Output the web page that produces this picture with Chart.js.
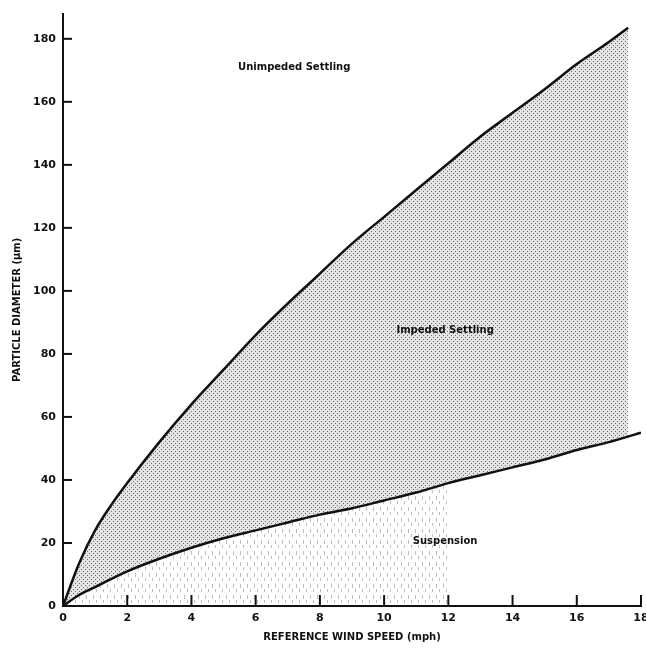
<!DOCTYPE html>
<html>
<head>
<meta charset="utf-8">
<script src="https://cdn.jsdelivr.net/npm/chart.js@4.4.0/dist/chart.umd.min.js"></script>
<style>
    body { margin: 0; background: #fff; }
    #wrap { width: 646px; height: 650px; }
</style>
</head>
<body>
<div id="wrap"><canvas id="chart"></canvas></div>
<script>
// curve readings (wind speed in mph, particle diameter in um)
const upperSpeed = [0, 0.5, 1, 1.5, 2, 3, 4, 5, 6, 7, 8, 9, 10, 11, 12, 13, 14, 15, 16, 17, 17.6];
const upperDiameter = [0, 13.5, 24, 32, 39, 52, 64, 75, 86, 96, 105.5, 115, 123.5, 132, 140.5, 149, 156.5, 164, 172, 179, 183.5];
const lowerSpeed = [0, 0.5, 1, 2, 3, 4, 5, 6, 7, 8, 9, 10, 11, 12, 13, 14, 15, 16, 17, 18];
const lowerDiameter = [0, 3.5, 6, 11, 15, 18.5, 21.5, 24, 26.5, 29, 31, 33.5, 36, 39, 41.5, 44, 46.5, 49.5, 52, 55];
const xTicks = [0, 2, 4, 6, 8, 10, 12, 14, 16, 18];
const yTicks = [0, 20, 40, 60, 80, 100, 120, 140, 160, 180];
const regionLabels = ['Unimpeded Settling', 'Impeded Settling', 'Suspension'];
const regionSpeed = [7.2, 11.9, 11.9];
const regionDiameter = [171, 87.5, 20.5];
const suspensionEnd = 12; // the hatched part below the lower curve stops here

function toPoints(xs, ys) {
    return xs.map((x, i) => ({ x: x, y: ys[i] }));
}

function stipple() {
    const c = document.createElement('canvas');
    c.width = 4; c.height = 4;
    const g = c.getContext('2d');
    g.fillStyle = '#e4e4e4';
    g.fillRect(0, 0, 4, 4);
    g.fillStyle = '#6e6e6e';
    g.fillRect(1, 1, 1, 1);
    g.fillRect(3, 3, 1, 1);
    return g.createPattern(c, 'repeat');
}

function dashes() {
    const c = document.createElement('canvas');
    c.width = 7; c.height = 11;
    const g = c.getContext('2d');
    g.fillStyle = 'rgba(110,110,110,0.45)';
    g.fillRect(2, 1, 1, 4);
    g.fillRect(5, 6, 1, 3);
    return g.createPattern(c, 'repeat');
}

const font = "'DejaVu Sans', sans-serif";

const inwardTicks = {
    id: 'inwardTicks',
    afterDraw(chart) {
        const ctx = chart.ctx;
        const xs = chart.scales.x, ys = chart.scales.y;
        const area = chart.chartArea;
        ctx.save();
        ctx.strokeStyle = '#111';
        ctx.lineWidth = 2;
        yTicks.forEach(v => {
            if (v === 0) return;
            const py = ys.getPixelForValue(v);
            ctx.beginPath();
            ctx.moveTo(area.left, py);
            ctx.lineTo(area.left + 9, py);
            ctx.stroke();
        });
        xTicks.forEach(v => {
            if (v === 0) return;
            const px = xs.getPixelForValue(v);
            ctx.beginPath();
            ctx.moveTo(px, area.bottom);
            ctx.lineTo(px, area.bottom - 11);
            ctx.stroke();
        });
        ctx.fillStyle = '#111';
        ctx.font = 'bold 10px ' + font;
        ctx.textAlign = 'center';
        ctx.textBaseline = 'middle';
        regionLabels.forEach((t, i) => {
            ctx.fillText(t, xs.getPixelForValue(regionSpeed[i]), ys.getPixelForValue(regionDiameter[i]));
        });
        ctx.restore();
    }
};

const suspensionIdx = lowerSpeed.filter(x => x <= suspensionEnd).length;

new Chart(document.getElementById('chart'), {
    type: 'line',
    data: {
        datasets: [
            {
                label: 'Upper',
                data: toPoints(upperSpeed, upperDiameter),
                borderColor: '#111',
                borderWidth: 2.5,
                pointRadius: 0,
                cubicInterpolationMode: 'monotone',
                fill: { target: 1 },
                backgroundColor: stipple()
            },
            {
                label: 'Lower',
                data: toPoints(lowerSpeed, lowerDiameter),
                borderColor: '#111',
                borderWidth: 2.5,
                pointRadius: 0,
                cubicInterpolationMode: 'monotone',
                fill: false
            },
            {
                label: 'Suspension',
                data: toPoints(lowerSpeed.slice(0, suspensionIdx), lowerDiameter.slice(0, suspensionIdx)),
                borderWidth: 0,
                borderColor: 'rgba(0,0,0,0)',
                pointRadius: 0,
                cubicInterpolationMode: 'monotone',
                fill: 'origin',
                backgroundColor: dashes()
            }
        ]
    },
    options: {
        responsive: true,
        maintainAspectRatio: false,
        animation: false,
        layout: { padding: { top: 7, right: 5, left: 0, bottom: 0 } },
        plugins: {
            legend: { display: false },
            tooltip: { enabled: false },
            filler: { drawTime: 'beforeDatasetsDraw' }
        },
        scales: {
            x: {
                type: 'linear',
                min: 0,
                max: 18,
                afterBuildTicks: s => { s.ticks = xTicks.map(v => ({ value: v })); },
                afterFit: s => { s.height = 44; s.paddingRight = 0; s.paddingLeft = 0; },
                grid: { display: false, drawTicks: false },
                border: { display: true, color: '#111', width: 2 },
                ticks: { color: '#111', padding: 6, font: { family: font, size: 11, weight: 'bold' } },
                title: {
                    display: true,
                    text: 'REFERENCE WIND SPEED (mph)',
                    color: '#111',
                    padding: { top: 0, bottom: 7 },
                    font: { family: font, size: 10, weight: 'bold' }
                }
            },
            y: {
                min: 0,
                max: 188,
                afterBuildTicks: s => { s.ticks = yTicks.map(v => ({ value: v })); },
                afterFit: s => { s.width = 63; },
                grid: { display: false, drawTicks: false },
                border: { display: true, color: '#111', width: 2 },
                ticks: { color: '#111', padding: 7, font: { family: font, size: 11, weight: 'bold' } },
                title: {
                    display: true,
                    text: 'PARTICLE DIAMETER (μm)',
                    color: '#111',
                    padding: { top: 11, bottom: 0 },
                    font: { family: font, size: 10, weight: 'bold' }
                }
            }
        }
    },
    plugins: [inwardTicks]
});
</script>
</body>
</html>
